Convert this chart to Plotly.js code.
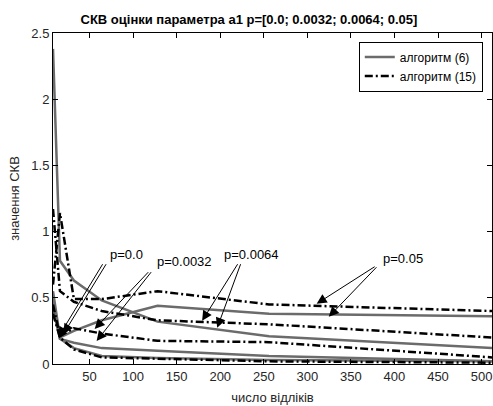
<!DOCTYPE html>
<html>
<head>
<meta charset="utf-8">
<script src="https://cdn.plot.ly/plotly-3.0.1.min.js"></script>
<style>html,body{margin:0;padding:0;background:#fff;}#chart{width:493px;height:406px;}</style>
</head>
<body>
<div id="chart"></div>
<script>
// Number of samples (x axis)
const counts = [8, 16, 32, 64, 128, 256, 512];

// Algorithm (6) – solid grey lines
const alg6_p0    = [0.42, 0.19, 0.12, 0.06, 0.045, 0.03, 0.02];
const alg6_p0032 = [0.50, 0.19, 0.16, 0.12, 0.10, 0.06, 0.02];
const alg6_p0064 = [2.38, 0.78, 0.63, 0.48, 0.32, 0.21, 0.12];
const alg6_p05   = [0.55, 0.20, 0.25, 0.33, 0.44, 0.38, 0.36];

// Algorithm (15) – dash-dot black lines
const alg15_p0    = [0.38, 0.20, 0.11, 0.05, 0.04, 0.02, 0.01];
const alg15_p0032 = [0.45, 0.21, 0.27, 0.23, 0.175, 0.165, 0.05];
const alg15_p0064 = [1.17, 0.55, 0.47, 0.40, 0.33, 0.30, 0.20];
const alg15_p05   = [0.60, 1.14, 0.49, 0.49, 0.55, 0.45, 0.40];

const seriesNames = ['алгоритм (6)', 'алгоритм (15)'];
const pLabels = ['p=0.0', 'p=0.0032', 'p=0.0064', 'p=0.05'];

// Label anchor positions (data coords) and arrow tips/tails
const labelPos = [[71, 0.826], [125, 0.773], [202, 0.826], [384, 0.795]];
const arrowTails = [
  [[66, 0.765], [70, 0.765]],
  [[119, 0.705], [122, 0.705]],
  [[221, 0.765], [224, 0.765]],
  [[379, 0.742], [381, 0.742]]
];
const arrowTips = [
  [[14.3, 0.205], [20, 0.227]],
  [[55.8, 0.265], [58.1, 0.174]],
  [[179.2, 0.326], [196.5, 0.273]],
  [[310.7, 0.455], [324.6, 0.356]]
];

const alg6 = [alg6_p0, alg6_p0032, alg6_p0064, alg6_p05];
const alg15 = [alg15_p0, alg15_p0032, alg15_p0064, alg15_p05];

const traces = [];
alg6.forEach((ys, i) => {
  traces.push({
    x: counts, y: ys, type: 'scatter', mode: 'lines',
    name: seriesNames[0], showlegend: i === 0, legendgroup: 'a6',
    line: {color: '#6b6b6b', width: 2.5}
  });
});
alg15.forEach((ys, i) => {
  traces.push({
    x: counts, y: ys, type: 'scatter', mode: 'lines',
    name: seriesNames[1], showlegend: i === 0, legendgroup: 'a15',
    line: {color: '#000000', width: 2.5, dash: '8px,3px,2px,3px'}
  });
});

const ff = 'Liberation Sans, Arial, sans-serif';
const annotations = [];
pLabels.forEach((t, i) => {
  annotations.push({
    x: labelPos[i][0], y: labelPos[i][1], xref: 'x', yref: 'y',
    text: t, showarrow: false, xanchor: 'left', yanchor: 'middle',
    font: {family: ff, size: 13, color: '#000'}
  });
  for (let k = 0; k < 2; k++) {
    annotations.push({
      x: arrowTips[i][k][0], y: arrowTips[i][k][1], xref: 'x', yref: 'y',
      ax: arrowTails[i][k][0], ay: arrowTails[i][k][1], axref: 'x', ayref: 'y',
      text: '', showarrow: true, arrowhead: 2, arrowsize: 2, arrowwidth: 1,
      arrowcolor: '#000', standoff: 0, startstandoff: 0
    });
  }
});

const font = {family: ff, size: 13, color: '#262626'};

const layout = {
  width: 493, height: 406,
  margin: {l: 53, r: 1, t: 33, b: 42},
  paper_bgcolor: '#fff', plot_bgcolor: '#fff',
  font: font,
  title: {
    text: '<b>СКВ оцінки параметра a1 p=[0.0; 0.0032; 0.0064; 0.05]</b>',
    font: {family: ff, size: 13, color: '#000'},
    x: 0.505, xref: 'container', xanchor: 'center',
    y: 0.952, yref: 'container', yanchor: 'middle'
  },
  xaxis: {
    range: [8, 512], tickvals: [50,100,150,200,250,300,350,400,450,500],
    ticks: 'inside', ticklen: 5, tickcolor: '#000', showline: true, linecolor: '#000',
    linewidth: 1, mirror: 'ticks', showgrid: false, zeroline: false,
    tickfont: font,
    title: {text: 'число відліків', font: font, standoff: 10}
  },
  yaxis: {
    range: [0, 2.5], tickvals: [0, 0.5, 1, 1.5, 2, 2.5], ticktext: ['0','0.5','1','1.5','2','2.5'],
    ticks: 'inside', ticklen: 5, tickcolor: '#000', showline: true, linecolor: '#000',
    linewidth: 1, mirror: 'ticks', showgrid: false, zeroline: false,
    tickfont: font,
    title: {text: 'значення СКВ', font: font, standoff: 8}
  },
  legend: {
    x: 0.979, y: 0.974, xanchor: 'right', yanchor: 'top',
    bgcolor: '#fff', bordercolor: '#000', borderwidth: 1,
    font: {family: ff, size: 12, color: '#000'},
    tracegroupgap: 0
  },
  annotations: annotations
};

Plotly.newPlot('chart', traces, layout, {displayModeBar: false, staticPlot: true});
</script>
</body>
</html>
